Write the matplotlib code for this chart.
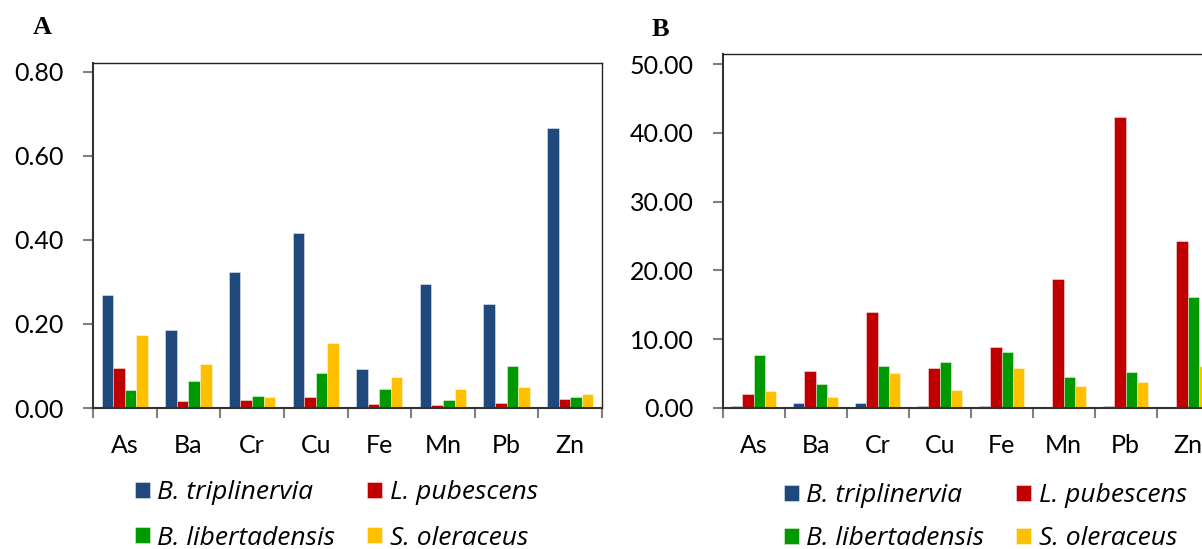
import matplotlib
matplotlib.use("Agg")
import matplotlib.pyplot as plt
import numpy as np

categories = ["As", "Ba", "Cr", "Cu", "Fe", "Mn", "Pb", "Zn"]
species = ["B. triplinervia", "L. pubescens", "B. libertadensis", "S. oleraceus"]
colors = ["#1F497D", "#C00000", "#009900", "#FFC000"]

# Panel A values
a_trip = [0.269, 0.186, 0.323, 0.416, 0.092, 0.294, 0.248, 0.667]
a_pub = [0.096, 0.016, 0.018, 0.025, 0.010, 0.006, 0.013, 0.021]
a_lib = [0.043, 0.065, 0.028, 0.083, 0.046, 0.019, 0.099, 0.025]
a_ole = [0.173, 0.105, 0.025, 0.155, 0.074, 0.046, 0.049, 0.034]

# Panel B values
b_trip = [0.3, 0.7, 0.7, 0.3, 0.3, 0.05, 0.3, 0.05]
b_pub = [2.0, 5.4, 14.0, 5.8, 8.8, 18.7, 42.3, 24.2]
b_lib = [7.7, 3.5, 6.0, 6.7, 8.05, 4.5, 5.25, 16.1]
b_ole = [2.4, 1.6, 5.0, 2.6, 5.8, 3.2, 3.7, 6.0]

a_ticks = [0.0, 0.2, 0.4, 0.6, 0.8]
b_ticks = [0, 10, 20, 30, 40, 50]

plt.rcParams['font.family'] = ['Lato', 'DejaVu Sans']

W, H = 1202, 549
fig = plt.figure(figsize=(W / 100, H / 100), dpi=100)

def make_panel(rect, series, ylim, yticks, fmt, full_box):
    ax = fig.add_axes(rect)
    x = np.arange(len(categories))
    w = 0.182
    handles = []
    for i, (vals, c) in enumerate(zip(series, colors)):
        h = ax.bar(x + (i - 1.5) * w, vals, width=w, color=c,
                   edgecolor=(1, 1, 1, 0.6), linewidth=0.5, zorder=2)
        handles.append(h)
    ax.set_xlim(-0.5, len(categories) - 0.5)
    ax.set_ylim(*ylim)
    ax.set_yticks(yticks)
    ax.set_yticklabels([fmt.format(t) for t in yticks])
    ax.set_xticks(np.arange(len(categories) + 1) - 0.5)
    ax.set_xticklabels([])
    ax.set_xticks(x, minor=True)
    ax.set_xticklabels(categories, minor=True)
    ax.tick_params(axis='x', which='major', length=7, width=1.5,
                   color='#808080', direction='out')
    ax.tick_params(axis='x', which='minor', length=0, pad=19, labelsize=18)
    ax.tick_params(axis='y', length=7, width=1.5, color='#808080',
                   direction='out', pad=14, labelsize=18)
    for s in ['left', 'bottom']:
        ax.spines[s].set_color('#333333')
        ax.spines[s].set_linewidth(1.5)
    for s in ['top', 'right']:
        ax.spines[s].set_color('#222222')
        ax.spines[s].set_linewidth(1.0)
    if not full_box:
        ax.spines['right'].set_visible(False)
    return ax, handles

axA, hA = make_panel([93 / W, 1 - 408 / H, (602 - 93) / W, (408 - 63) / H],
                     [a_trip, a_pub, a_lib, a_ole], (0, 0.821), a_ticks,
                     "{:.2f}", True)
axB, hB = make_panel([722.7 / W, 1 - 407.7 / H, 496 / W, (407.7 - 54) / H],
                     [b_trip, b_pub, b_lib, b_ole], (0, 51.5), b_ticks,
                     "{:.2f}", False)

fig.text(42 / W, 1 - 27 / H, "A", family=['Liberation Serif'], weight='bold',
         fontsize=19, ha='center', va='center')
fig.text(660 / W, 1 - 30 / H, "B", family=['Liberation Serif'], weight='bold',
         fontsize=19, ha='center', va='center')

order = [0, 2, 1, 3]
for ax, hs, anchor, ls in [(axA, hA, (135 / W, 1 - 480 / H), 0.78),
                           (axB, hB, (784 / W, 1 - 483 / H), 0.70)]:
    leg = ax.legend([hs[i] for i in order], [species[i] for i in order],
                    ncol=2, loc='upper left', bbox_to_anchor=anchor,
                    bbox_transform=fig.transFigure, frameon=False,
                    prop={'family': ['Open Sans', 'DejaVu Sans'], 'style': 'italic', 'size': 19},
                    handlelength=0.57, handleheight=0.57, handletextpad=0.28,
                    columnspacing=1.2, labelspacing=ls, borderpad=0,
                    borderaxespad=0)

fig.savefig("out.png", dpi=100)
